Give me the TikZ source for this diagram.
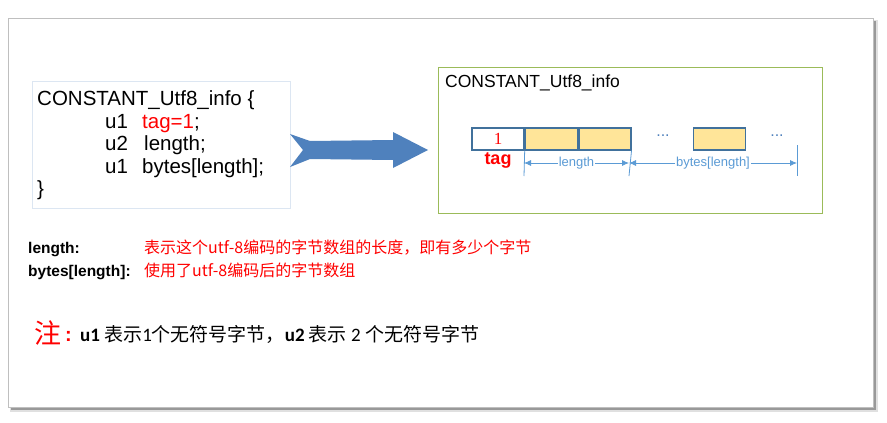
\documentclass[tikz,border=0pt]{standalone}
\usepackage{fontspec}
\setmainfont{Liberation Sans}
\newfontfamily\cjk{Noto Sans CJK SC}
\newfontfamily\calib{Carlito}
\newfontfamily\numserif{Liberation Serif}
\usepackage{tikz}
\usetikzlibrary{arrows.meta, positioning, calc}
\usepackage{xcolor}
\definecolor{arrowblue}{RGB}{79,129,189}
\definecolor{celledge}{RGB}{65,113,156}
\definecolor{cellfill}{RGB}{255,229,153}
\definecolor{dimblue}{RGB}{91,155,213}
\definecolor{boxgreen}{RGB}{155,187,89}
\definecolor{codeedge}{RGB}{220,230,242}

\tikzset{
  txt/.style={anchor=base west, inner sep=0pt},
  cell/.style={draw=celledge, line width=1.4pt, fill=white, minimum width=52pt, minimum height=22pt, inner sep=0pt},
  bytecell/.style={cell, fill=cellfill},
  dimline/.style={dimblue, line width=0.8pt, {Latex[length=7pt,width=6pt]}-{Latex[length=7pt,width=6pt]}},
  dimtick/.style={dimblue, line width=0.8pt},
  dimlbl/.style={fill=white, inner sep=1pt, font=\fontsize{13}{13}\selectfont},
  dotslbl/.style={arrowblue, font=\fontsize{16}{16}\selectfont},
}

\begin{document}
\begin{tikzpicture}[x=1pt,y=-1pt]
  \useasboundingbox (0,0) rectangle (887,423);
  \fill[black!12] (10,20) rectangle (878,412);
  \fill[black!40] (11,21) rectangle (876,410);
  \fill[white,draw=black!25] (8,18) rectangle (873,407);

  \draw[codeedge,fill=white] (32,81) rectangle (290,208);
  \begin{scope}[font=\fontsize{20.5}{20.5}\selectfont]
    \node[txt] (hdr) at (37,105) {CONSTANT\_Utf8\_info \{};
    \node[txt] (u1a) at (105,128) {u1};
    \node[txt,red] (tagf) at (142,128) {tag=1\textcolor{black}{;}};
    \node[txt] (u2) at (105,150) {u2};
    \node[txt] (lenf) at (144,150) {length;};
    \node[txt] (u1b) at (105,173) {u1};
    \node[txt] (bytesf) at (142,173) {bytes[length];};
    \node[txt] (close) at (37,195) {\}};
  \end{scope}

  \fill[arrowblue] (290,134) -- (310,141) -- (393,140) -- (393,132) -- (428,150)
    -- (393,168) -- (393,160) -- (310,159) -- (290,167) -- (303,150) -- cycle;

  \draw[boxgreen,line width=1pt] (438,67) rectangle (822,213);
  \node[txt,font=\fontsize{17.5}{17.5}\selectfont] (title) at (445,87) {CONSTANT\_Utf8\_info};

  \node[cell,text=red,font=\numserif\fontsize{17}{17}\selectfont] (c1) at (498,139) {1};
  \node[bytecell,right=0pt of c1] (c2) {};
  \node[bytecell,right=0pt of c2] (c3) {};
  \node[bytecell] (c4) at (719.5,139) {};
  \node[dotslbl] (dots1) at (663,136) {...};
  \node[dotslbl] (dots2) at (777,136) {...};
  \node[red,font=\bfseries\fontsize{18}{18}\selectfont] (taglbl) at (498,161) {tag};

  \coordinate (d0) at (524,163);
  \coordinate (d1) at (629,163);
  \coordinate (d2) at (797,163);
  \draw[dimtick] (c2.south west) -- (524,176);
  \draw[dimtick] (c3.south east) -- (629,176);
  \draw[dimtick] (797,145) -- (797,176);
  \draw[dimline] (d0) -- node[dimlbl] (lenlbl) {length} (d1);
  \draw[dimline] (d1) -- node[dimlbl] (byteslbl) {bytes[length]} (d2);

  \node[txt,font=\bfseries\fontsize{15.5}{15.5}\selectfont] (lenkey) at (28,253) {length:};
  \node[txt,font=\bfseries\fontsize{15.5}{15.5}\selectfont] (byteskey) at (28,276) {bytes[length]:};
  \node[txt,red,font=\cjk\fontsize{16}{16}\selectfont] (lendesc) at (144,253) {表示这个utf-8编码的字节数组的长度，即有多少个字节};
  \node[txt,red,font=\cjk\fontsize{16}{16}\selectfont] (bytesdesc) at (144,276) {使用了utf-8编码后的字节数组};

  \node[txt,red,font=\cjk\fontsize{27}{27}\selectfont] (note) at (34,343) {注};
  \node[txt,red,font=\bfseries\fontsize{20}{20}\selectfont] (colon) at (65,341) {:};
  \node[txt,font=\cjk\fontsize{19}{19}\selectfont] (notetext) at (80,341)
    {{\calib\bfseries u1} 表示{\calib 1}个无符号字节，{\calib\bfseries u2} 表示 {\calib 2} 个无符号字节};
\end{tikzpicture}
\end{document}
